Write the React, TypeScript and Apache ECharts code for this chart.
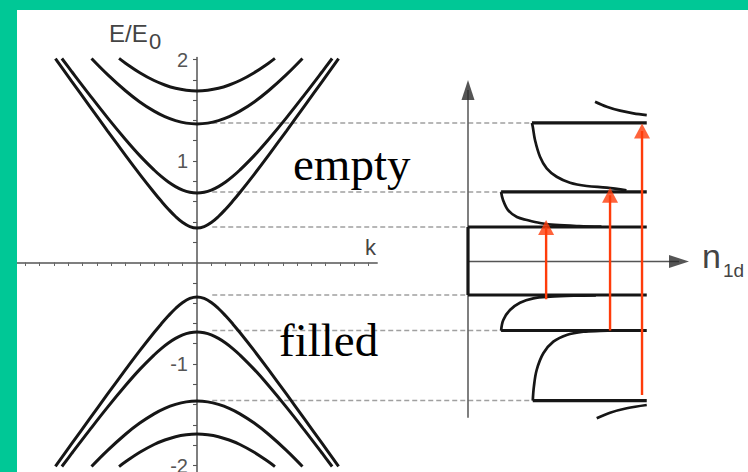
import React, { useEffect, useRef } from 'react';
import * as echarts from 'echarts';

// ---- left panel: band structure E/E0 vs k (k >= 0 half, mirrored) ----
const band1K = [0, 0.1, 0.2, 0.3, 0.4, 0.5, 0.6, 0.8, 1.0, 1.25, 1.5, 1.75, 1.98];
const band1E = [0.34, 0.354, 0.394, 0.453, 0.525, 0.605, 0.69, 0.869, 1.056, 1.295, 1.538, 1.783, 2.009];
const band2K = [0, 0.1, 0.2, 0.3, 0.4, 0.5, 0.6, 0.8, 1.0, 1.25, 1.5, 1.75, 1.89];
const band2E = [0.685, 0.692, 0.713, 0.748, 0.793, 0.848, 0.911, 1.053, 1.212, 1.425, 1.649, 1.879, 2.01];
const band3K = [0, 0.15, 0.3, 0.45, 0.6, 0.8, 1.0, 1.25, 1.475];
const band3E = [1.365, 1.373, 1.398, 1.437, 1.491, 1.582, 1.692, 1.851, 2.01];
const band4K = [0, 0.15, 0.3, 0.45, 0.6, 0.8, 1.0, 1.09];
const band4E = [1.69, 1.697, 1.716, 1.749, 1.793, 1.87, 1.964, 2.011];

const kTicks = [-2.4, -2.2, -2, -1.8, -1.6, -1.4, -1.2, -1, -0.8, -0.6, -0.4, -0.2, 0.2, 0.4, 0.6, 0.8, 1, 1.2, 1.4, 1.6, 1.8, 2, 2.2, 2.4];
const eTicks = [-2, -1.8, -1.6, -1.4, -1.2, -1, -0.8, -0.6, -0.4, -0.2, 0.2, 0.4, 0.6, 0.8, 1, 1.2, 1.4, 1.6, 1.8, 2];
const eTickLabels = [-2, -1, 1, 2];

// ---- right panel: density of states n_1d vs E ----
const levelE = [1.365, 0.685, 0.34, -0.33, -0.68, -1.37];
const levelStartN = [2.3, 1.19, 0, 0, 1.19, 2.33];
const levelEndN = 6.43;
const dashStartN = -9.2;

const dosA: number[][] = [[1.19, 0.685], [1.26, 0.606], [1.44, 0.507], [1.76, 0.438], [2.12, 0.409], [2.59, 0.379], [3.13, 0.36], [4.0, 0.348], [4.8, 0.343]];
const dosB: number[][] = [[2.3, 1.365], [2.33, 1.328], [2.41, 1.197], [2.59, 1.032], [2.83, 0.918], [3.19, 0.835], [3.67, 0.776], [4.27, 0.744], [4.99, 0.727], [5.7, 0.7]];
const dosC: number[][] = [[4.57, 1.574], [4.99, 1.525], [5.47, 1.486], [5.95, 1.46], [6.43, 1.443]];
const dosA2: number[][] = [[1.19, -0.68], [1.27, -0.576], [1.51, -0.478], [1.87, -0.406], [2.35, -0.363], [2.95, -0.347], [3.8, -0.337], [4.6, -0.333]];
const dosB2: number[][] = [[2.33, -1.37], [2.37, -1.233], [2.47, -1.069], [2.71, -0.904], [3.07, -0.79], [3.55, -0.724], [4.15, -0.692], [4.75, -0.684], [5.4, -0.68]];
const dosC2: number[][] = [[4.63, -1.545], [5.11, -1.49], [5.71, -1.446], [6.43, -1.414]];

const eAxisBottom = -1.54;
const eAxisHead = 1.69;
const nAxisHead = 7.59;
const gapE = [-0.33, 0.34];

// red transition arrows
const arrowN = [2.81, 5.11, 6.26];
const arrowTail = [-0.372, -0.68, -1.315];
const arrowHead = [0.335, 0.652, 1.286];

const RED = '#ff3c0a';
const INK = '#161616';
const AXIS = '#555';

// layout of the left panel (pixels)
const G0_LEFT = 16.82;
const G0_WIDTH = 360.36;
const K_MIN = -2.52;
const K_MAX = 2.52;

function mirror(ks: number[], es: number[], sign: number) {
  const left = ks.slice(1).map((k, i) => [-k, sign * es[i + 1]]).reverse();
  const right = ks.map((k, i) => [k, sign * es[i]]);
  return [...left, ...right];
}

export default function App() {
  const ref = useRef<HTMLDivElement>(null);
  useEffect(() => {
    if (!ref.current) return;
    const chart = echarts.init(ref.current, null, { renderer: 'svg' });
    const series: any[] = [];

    // dashed guide lines
    levelE.forEach((e, i) => {
      series.push({
        type: 'line', xAxisIndex: 1, yAxisIndex: 1, showSymbol: false, silent: true, z: 1,
        data: [[dashStartN, e], [levelStartN[i], e]],
        lineStyle: { color: '#a0a0a0', width: 1.6, type: [5, 3] },
      });
    });

    // bands
    [[band1K, band1E], [band2K, band2E], [band3K, band3E], [band4K, band4E]].forEach(([ks, es]) => {
      [1, -1].forEach((s) => {
        series.push({
          type: 'line', xAxisIndex: 0, yAxisIndex: 0, showSymbol: false, smooth: 0.4, z: 3,
          data: mirror(ks, es, s),
          lineStyle: { color: INK, width: 3 },
        });
      });
    });

    // DOS axes
    series.push({
      type: 'line', xAxisIndex: 1, yAxisIndex: 1, showSymbol: false, z: 2,
      data: [[0, eAxisBottom], [0, eAxisHead]], lineStyle: { color: AXIS, width: 1.5 },
    });
    series.push({
      type: 'line', xAxisIndex: 1, yAxisIndex: 1, showSymbol: false, z: 2,
      data: [[0, 0], [nAxisHead, 0]], lineStyle: { color: AXIS, width: 1.5 },
    });
    series.push({
      type: 'scatter', xAxisIndex: 1, yAxisIndex: 1, z: 3,
      data: [{ value: [0, eAxisHead], symbolRotate: 0 }, { value: [nAxisHead, 0], symbolRotate: -90 }],
      symbol: 'triangle', symbolSize: [13, 20], itemStyle: { color: '#2a2a2a' },
    });
    series.push({
      type: 'line', xAxisIndex: 1, yAxisIndex: 1, showSymbol: false, z: 3,
      data: [[0, gapE[0]], [0, gapE[1]]], lineStyle: { color: INK, width: 3.2 },
    });

    // DOS bars
    levelE.forEach((e, i) => {
      series.push({
        type: 'line', xAxisIndex: 1, yAxisIndex: 1, showSymbol: false, z: 3,
        data: [[levelStartN[i], e], [levelEndN, e]],
        lineStyle: { color: INK, width: 3.2 },
      });
    });
    // DOS curves
    [dosA, dosB, dosC, dosA2, dosB2, dosC2].forEach((d) => {
      series.push({
        type: 'line', xAxisIndex: 1, yAxisIndex: 1, showSymbol: false, smooth: 0.35, z: 3,
        data: d, lineStyle: { color: INK, width: 2.7 },
      });
    });

    // red arrows
    arrowN.forEach((n, i) => {
      series.push({
        type: 'line', xAxisIndex: 1, yAxisIndex: 1, showSymbol: false, z: 5,
        data: [[n, arrowTail[i]], [n, arrowHead[i]]],
        lineStyle: { color: RED, width: 2.4 },
      });
    });
    series.push({
      type: 'scatter', xAxisIndex: 1, yAxisIndex: 1, z: 6,
      data: arrowN.map((n, i) => [n, arrowHead[i]]),
      symbol: 'triangle', symbolSize: [16, 15], itemStyle: { color: RED },
    });

    // y axis sits at k = 0: shift it from the grid's left edge by the k=0 distance
    const yAxisShift = (-K_MIN / (K_MAX - K_MIN)) * G0_WIDTH;

    const hidden = { show: false };
    const option: any = {
      animation: false,
      backgroundColor: '#ffffff',
      grid: [
        { left: G0_LEFT, top: 57.47, width: G0_WIDTH, height: 418.18, outerBoundsMode: 'none', containLabel: false },
        { left: 190, top: 7.75, width: 556, height: 466.9, outerBoundsMode: 'none', containLabel: false },
      ],
      xAxis: [
        {
          gridIndex: 0, type: 'value', min: K_MIN, max: K_MAX, position: 'bottom',
          axisLine: { show: true, onZero: true, lineStyle: { color: AXIS, width: 1.5 } },
          axisTick: { show: true, customValues: kTicks, length: 3.5, lineStyle: { color: '#666', width: 1 } },
          axisLabel: hidden, splitLine: hidden,
        },
        { gridIndex: 1, type: 'value', min: -10, max: 10, show: false, splitLine: hidden },
      ],
      yAxis: [
        {
          gridIndex: 0, type: 'value', min: -2.1, max: 2.02, position: 'left', offset: -yAxisShift,
          axisLine: { show: true, onZero: false, lineStyle: { color: AXIS, width: 1.5 } },
          axisTick: { show: true, customValues: eTicks, length: 4, lineStyle: { color: '#555', width: 1.1 } },
          axisLabel: {
            show: true, customValues: eTickLabels, color: '#555', fontSize: 20,
            fontFamily: 'Liberation Sans', margin: 9,
          },
          splitLine: hidden,
        },
        { gridIndex: 1, type: 'value', min: -2.1, max: 2.5, show: false, splitLine: hidden },
      ],
      graphic: [
        { type: 'rect', z: 100, shape: { x: 0, y: 0, width: 748, height: 10 }, style: { fill: '#00C896' } },
        { type: 'rect', z: 100, shape: { x: 0, y: 0, width: 17, height: 472 }, style: { fill: '#00C896' } },
        { type: 'text', z: 50, x: 109, y: 33, style: { text: 'E/E', fontSize: 24, fontFamily: 'Liberation Sans', fill: '#444', align: 'left', verticalAlign: 'middle' } },
        { type: 'text', z: 50, x: 149, y: 41, style: { text: '0', fontSize: 22, fontFamily: 'Liberation Sans', fill: '#444', align: 'left', verticalAlign: 'middle' } },
        { type: 'text', z: 50, x: 365, y: 247, style: { text: 'k', fontSize: 22, fontFamily: 'Liberation Sans', fill: '#444', align: 'left', verticalAlign: 'middle' } },
        { type: 'text', z: 50, x: 702, y: 256, style: { text: 'n', fontSize: 34, fontFamily: 'Liberation Sans', fill: '#444', align: 'left', verticalAlign: 'middle' } },
        { type: 'text', z: 50, x: 723, y: 270, style: { text: '1d', fontSize: 19, fontFamily: 'Liberation Sans', fill: '#444', align: 'left', verticalAlign: 'middle' } },
        { type: 'text', z: 50, x: 293, y: 163.5, style: { text: 'empty', fontSize: 47, fontFamily: 'Liberation Serif', fill: '#000', align: 'left', verticalAlign: 'middle' } },
        { type: 'text', z: 50, x: 279, y: 339.5, style: { text: 'filled', fontSize: 47, fontFamily: 'Liberation Serif', fill: '#000', align: 'left', verticalAlign: 'middle' } },
      ],
      series,
    };
    chart.setOption(option);
    return () => chart.dispose();
  }, []);
  return (
    <div
      ref={ref}
      style={{ position: 'fixed', left: 0, top: 0, width: 748, height: 472, background: '#ffffff' }}
    />
  );
}
